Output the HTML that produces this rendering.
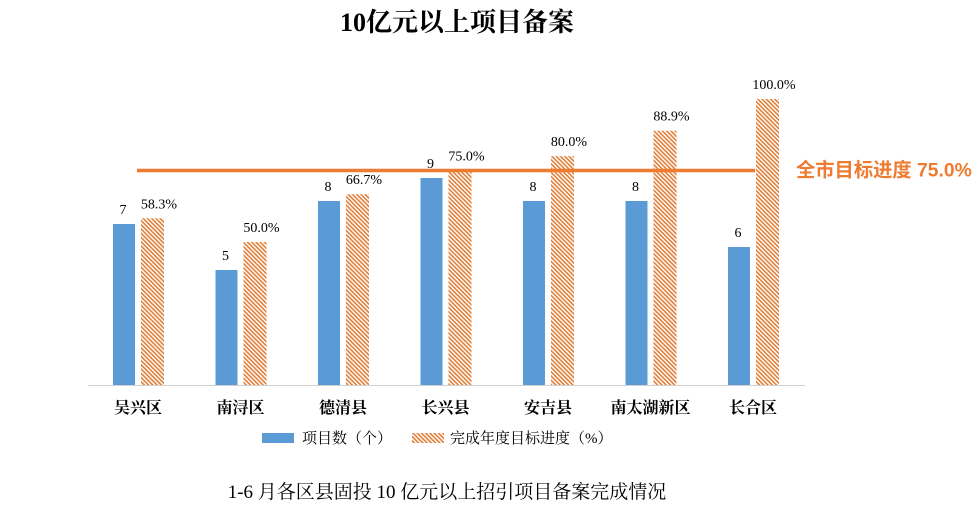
<!DOCTYPE html>
<html><head><meta charset="utf-8"><style>
body{margin:0;background:#fff;width:976px;height:508px;overflow:hidden}
svg text{font-family:"Liberation Serif","Noto Serif CJK SC",serif}
</style></head><body>
<svg width="976" height="508" xmlns="http://www.w3.org/2000/svg">
<defs>
<pattern id="hatch" width="3" height="3" patternUnits="userSpaceOnUse" patternTransform="rotate(-45)">
<rect width="3" height="3" fill="#fff"/><rect width="1.6" height="3" fill="#e07f3a"/>
</pattern>
</defs>
<text x="457" y="31" text-anchor="middle" font-size="26" font-weight="bold" fill="#000">10亿元以上项目备案</text>
<line x1="88" y1="385.5" x2="805" y2="385.5" stroke="#d0d0d0"/>
<g id="bars"></g>
<line id="target" x1="137" x2="755" stroke="#ee7b30" stroke-width="3.5"/>
<text id="targetLabel" x="796" font-size="19.3" font-weight="bold" fill="#ee7b30" style="font-family:'Liberation Sans','Noto Sans CJK SC',sans-serif">全市目标进度 75.0%</text>
<g>
<rect x="262" y="433" width="32" height="10" fill="#5b9bd5"/>
<text x="302" y="443" font-size="15">项目数（个）</text>
<rect x="412" y="433" width="32" height="10" fill="url(#hatch)"/>
<text x="450" y="443" font-size="15">完成年度目标进度（%）</text>
</g>
<text x="447" y="498" text-anchor="middle" font-size="19">1-6 月各区县固投 10 亿元以上招引项目备案完成情况</text>
</svg>
<script>
const categories=["吴兴区","南浔区","德清县","长兴县","安吉县","南太湖新区","长合区"];
const counts=[7,5,8,9,8,8,6];
const progress=[58.3,50.0,66.7,75.0,80.0,88.9,100.0];
const target=75.0;
const base=385, x0=138, step=102.5;
const yC=v=>base-v*23, yP=v=>base-v*2.86;
const ns="http://www.w3.org/2000/svg", g=document.getElementById("bars");
function mk(t,a){const e=document.createElementNS(ns,t);for(const k in a)e.setAttribute(k,a[k]);g.appendChild(e);return e;}
categories.forEach((c,i)=>{
 const cx=x0+i*step;
 let r=mk("rect",{x:cx-25,y:yC(counts[i]),width:22,height:base-yC(counts[i]),fill:"#5b9bd5"});
 
 
 let h=mk("rect",{x:cx+3,y:yP(progress[i]),width:23,height:base-yP(progress[i]),fill:"url(#hatch)"});
 
 
 let t1=mk("text",{x:cx-15,y:yC(counts[i])-10,"text-anchor":"middle","font-size":"14"});t1.textContent=counts[i];
 
 
 let t2=mk("text",{x:cx+21,y:yP(progress[i])-10,"text-anchor":"middle","font-size":"14"});t2.textContent=progress[i].toFixed(1)+"%";
 
 
 let t3=mk("text",{x:cx,y:413,"text-anchor":"middle","font-size":"16","font-weight":"bold"});t3.textContent=c;
 
 
});
const ty=yP(target);
document.getElementById("target").setAttribute("y1",ty);
document.getElementById("target").setAttribute("y2",ty);
document.getElementById("targetLabel").setAttribute("y",ty+6);
</script>
</body></html>
